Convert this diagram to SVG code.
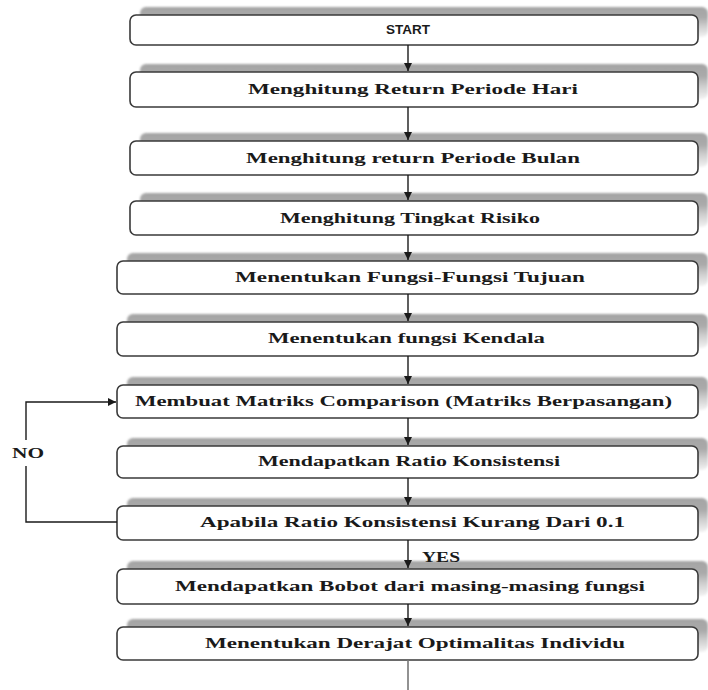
<svg xmlns="http://www.w3.org/2000/svg" width="708" height="690" viewBox="0 0 708 690">
<style>
.box{fill:#ffffff;stroke:#3a3a3a;stroke-width:1.6}
.sh{fill:url(#shg);filter:url(#blur)}
.t{font-family:"Liberation Serif","Times New Roman",serif;font-weight:bold;font-size:15px;fill:#1a1a1a}
.ts{font-family:"Liberation Sans",Arial,sans-serif;font-weight:bold;font-size:12px;fill:#1a1a1a}
.ln{fill:none;stroke:#1a1a1a;stroke-width:1.4}
.ln2{fill:none;stroke:#777;stroke-width:1.6}
</style>
<defs>
<linearGradient id="shg" x1="0" y1="0" x2="0" y2="1">
<stop offset="0" stop-color="#a4a4a4"/>
<stop offset="0.35" stop-color="#aaaaaa"/>
<stop offset="0.65" stop-color="#cfcfcf"/>
<stop offset="1" stop-color="#f2f2f2"/>
</linearGradient>
<filter id="blur" x="-5%" y="-30%" width="110%" height="160%"><feGaussianBlur stdDeviation="0.8"/></filter>
<marker id="ah" markerWidth="9" markerHeight="9" refX="8" refY="4.5" orient="auto" markerUnits="userSpaceOnUse">
<path d="M0,0.5 L8,4.5 L0,8.5 Z" fill="#1a1a1a"/>
</marker>
</defs>
<rect width="708" height="690" fill="#ffffff"/>

<g id="n1">
<rect class="sh" x="140" y="7" width="568" height="30" rx="6"/>
<rect class="box" x="130" y="15" width="568" height="30" rx="6"/>
<text class="ts" x="386" y="34" textLength="44" lengthAdjust="spacingAndGlyphs">START</text>
</g>
<g id="n2">
<rect class="sh" x="140" y="64" width="568" height="35" rx="6"/>
<rect class="box" x="130" y="72" width="568" height="35" rx="6"/>
<text class="t" x="248" y="94" textLength="330" lengthAdjust="spacingAndGlyphs">Menghitung Return Periode Hari</text>
</g>
<g id="n3">
<rect class="sh" x="140" y="133" width="568" height="34" rx="6"/>
<rect class="box" x="130" y="141" width="568" height="34" rx="6"/>
<text class="t" x="246" y="163" textLength="334" lengthAdjust="spacingAndGlyphs">Menghitung return Periode Bulan</text>
</g>
<g id="n4">
<rect class="sh" x="140" y="193" width="568" height="34" rx="6"/>
<rect class="box" x="130" y="201" width="568" height="34" rx="6"/>
<text class="t" x="280" y="223" textLength="260" lengthAdjust="spacingAndGlyphs">Menghitung Tingkat Risiko</text>
</g>
<g id="n5">
<rect class="sh" x="127" y="253" width="581" height="33" rx="6"/>
<rect class="box" x="117" y="261" width="581" height="33" rx="6"/>
<text class="t" x="235" y="282" textLength="350" lengthAdjust="spacingAndGlyphs">Menentukan Fungsi-Fungsi Tujuan</text>
</g>
<g id="n6">
<rect class="sh" x="127" y="314" width="581" height="34" rx="6"/>
<rect class="box" x="117" y="322" width="581" height="34" rx="6"/>
<text class="t" x="268" y="343" textLength="277" lengthAdjust="spacingAndGlyphs">Menentukan fungsi Kendala</text>
</g>
<g id="n7">
<rect class="sh" x="127" y="377" width="581" height="33" rx="6"/>
<rect class="box" x="117" y="385" width="581" height="33" rx="6"/>
<text class="t" x="135" y="406" textLength="537" lengthAdjust="spacingAndGlyphs">Membuat Matriks Comparison (Matriks Berpasangan)</text>
</g>
<g id="n8">
<rect class="sh" x="127" y="438" width="581" height="32" rx="6"/>
<rect class="box" x="117" y="446" width="581" height="32" rx="6"/>
<text class="t" x="258" y="466" textLength="302" lengthAdjust="spacingAndGlyphs">Mendapatkan Ratio Konsistensi</text>
</g>
<g id="n9">
<rect class="sh" x="127" y="498" width="581" height="34" rx="6"/>
<rect class="box" x="117" y="506" width="581" height="34" rx="6"/>
<text class="t" x="200" y="527" textLength="425" lengthAdjust="spacingAndGlyphs">Apabila Ratio Konsistensi Kurang Dari 0.1</text>
</g>
<g id="n10">
<rect class="sh" x="127" y="561" width="581" height="35" rx="6"/>
<rect class="box" x="117" y="569" width="581" height="35" rx="6"/>
<text class="t" x="175" y="591" textLength="470" lengthAdjust="spacingAndGlyphs">Mendapatkan Bobot dari masing-masing fungsi</text>
</g>
<g id="n11">
<rect class="sh" x="127" y="619" width="581" height="33" rx="6"/>
<rect class="box" x="117" y="627" width="581" height="33" rx="6"/>
<text class="t" x="205" y="648" textLength="420" lengthAdjust="spacingAndGlyphs">Menentukan Derajat Optimalitas Individu</text>
</g>

<g id="connectors">
<line class="ln" x1="408" y1="45" x2="408" y2="71" marker-end="url(#ah)"/>
<line class="ln" x1="408" y1="107" x2="408" y2="140" marker-end="url(#ah)"/>
<line class="ln" x1="408" y1="175" x2="408" y2="200" marker-end="url(#ah)"/>
<line class="ln" x1="408" y1="235" x2="408" y2="260" marker-end="url(#ah)"/>
<line class="ln" x1="408" y1="294" x2="408" y2="321" marker-end="url(#ah)"/>
<line class="ln" x1="408" y1="356" x2="408" y2="384" marker-end="url(#ah)"/>
<line class="ln" x1="408" y1="418" x2="408" y2="445" marker-end="url(#ah)"/>
<line class="ln" x1="408" y1="478" x2="408" y2="505" marker-end="url(#ah)"/>
<line class="ln" x1="408" y1="540" x2="408" y2="568" marker-end="url(#ah)"/>
<line class="ln" x1="408" y1="604" x2="408" y2="626" marker-end="url(#ah)"/>
<line class="ln2" x1="408" y1="660" x2="408" y2="690"/>
<polyline class="ln" points="117,522 26,522 26,466"/>
<polyline class="ln" points="26,440 26,402 116,402" marker-end="url(#ah)"/>
<text class="t" x="12" y="458" textLength="32" lengthAdjust="spacingAndGlyphs">NO</text>
<text class="t" x="422" y="562" textLength="38" lengthAdjust="spacingAndGlyphs">YES</text>
</g>
</svg>
